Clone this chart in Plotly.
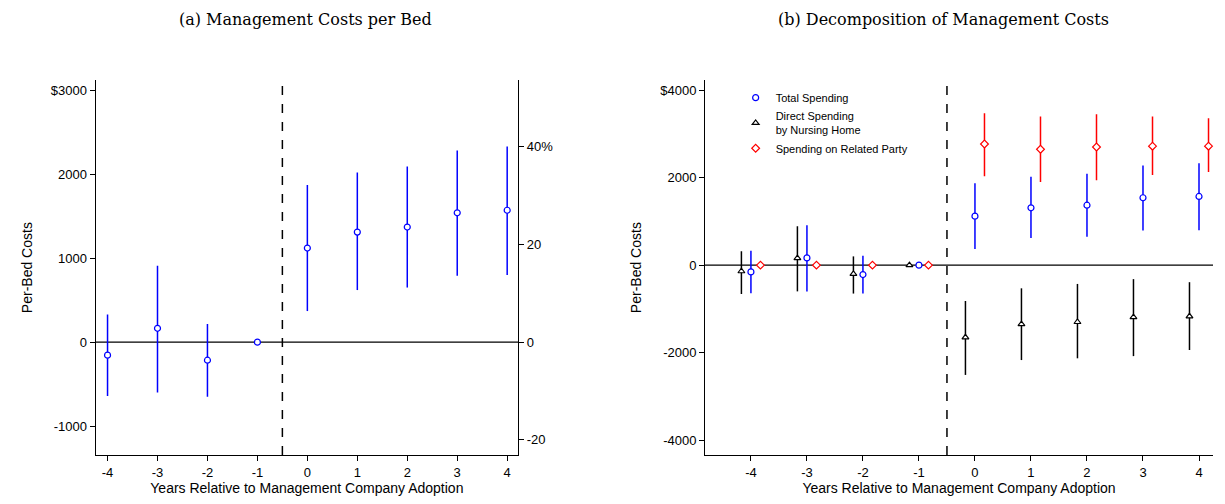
import plotly.graph_objects as go

years = [-4, -3, -2, -1, 0, 1, 2, 3, 4]
tick_labels = ["-4", "-3", "-2", "-1", "0", "1", "2", "3", "4"]

total = [-155, 165, -215, 0, 1120, 1310, 1370, 1540, 1570]
total_hi = [330, 910, 215, 0, 1870, 2020, 2090, 2280, 2330]
total_lo = [-640, -600, -650, 0, 370, 620, 650, 790, 800]

direct = [-140, 160, -200, 0, -1650, -1350, -1300, -1190, -1170]
direct_hi = [320, 890, 200, 0, -820, -530, -430, -320, -390]
direct_lo = [-660, -600, -650, 0, -2510, -2170, -2130, -2080, -1940]

related = [0, 0, 0, 0, 2770, 2650, 2700, 2720, 2720]
related_hi = [0, 0, 0, 0, 3470, 3400, 3450, 3400, 3360]
related_lo = [0, 0, 0, 0, 2030, 1900, 1940, 2060, 2130]

FONT = "Liberation Sans"
fig = go.Figure()

def err(v, hi, lo):
    return dict(type="data", symmetric=False,
                array=[h - x for h, x in zip(hi, v)],
                arrayminus=[x - l for x, l in zip(v, lo)],
                width=0, thickness=1.5)

def add(xs, v, hi, lo, color, sym, name, xa, ya, show):
    fig.add_trace(go.Scatter(x=xs, y=v, mode="markers", name=name, showlegend=show, cliponaxis=False,
        marker=dict(symbol=sym, size=6, color="white", line=dict(color=color, width=1.2)),
        error_y=dict(err(v, hi, lo), color=color), xaxis=xa, yaxis=ya))

dx = 8 / 1225
dy = 8 / 504
ydom = [0.097 + dy, 0.841 + dy]
xr2 = [-4.82, 4.25]
shapes = [
    dict(type="line", xref="x", yref="y", x0=-4.24, x1=4.22, y0=0, y1=0, line=dict(color="black", width=1.2), layer="below"),
    dict(type="line", xref="x", yref="paper", x0=-0.5, x1=-0.5, y0=ydom[0], y1=ydom[1],
         line=dict(color="black", width=1.5, dash="dash"), layer="below"),
    dict(type="line", xref="x2", yref="y2", x0=xr2[0], x1=xr2[1], y0=0, y1=0, line=dict(color="black", width=1.2), layer="below"),
    dict(type="line", xref="x2", yref="paper", x0=-0.5, x1=-0.5, y0=ydom[0], y1=ydom[1],
         line=dict(color="black", width=1.5, dash="dash"), layer="below"),
]

add(years, total, total_hi, total_lo, "blue", "circle", "Total Spending", "x", "y", False)
fig.add_trace(go.Scatter(x=[0], y=[0], mode="markers", marker=dict(opacity=0), showlegend=False,
                         xaxis="x", yaxis="y3", hoverinfo="skip"))

add(years, total, total_hi, total_lo, "blue", "circle", "Total Spending", "x2", "y2", True)
add([y - 0.17 for y in years], direct, direct_hi, direct_lo, "black", "triangle-up",
    "Direct Spending<br>by Nursing Home", "x2", "y2", True)
add([y + 0.17 for y in years], related, related_hi, related_lo, "red", "diamond",
    "Spending on Related Party", "x2", "y2", True)

axbase = dict(showgrid=False, zeroline=False, showline=True, linecolor="black", linewidth=1, automargin=False,
              ticks="outside", ticklen=5, tickcolor="black", tickfont=dict(size=13, family=FONT, color="black"))
tfont = dict(size=14, family=FONT, color="black")
fig.update_layout(
    width=1225, height=504, margin=dict(l=0, r=0, t=0, b=0),
    plot_bgcolor="white", paper_bgcolor="white",
    xaxis=dict(axbase, domain=[0.078 - dx, 0.423 - dx], range=[-4.24, 4.22], tickvals=years, ticktext=tick_labels,
               anchor="y", title=dict(text="Years Relative to Management Company Adoption", standoff=2, font=tfont)),
    yaxis=dict(axbase, domain=ydom, range=[-1345, 3119], tickvals=[-1000, 0, 1000, 2000, 3000],
               ticktext=["-1000", "0", "1000", "2000", "$3000"], anchor="x",
               title=dict(text="Per-Bed Costs", font=tfont, standoff=14)),
    yaxis3=dict(axbase, overlaying="y", side="right", anchor="x", range=[-23.1, 53.5],
                tickvals=[-20, 0, 20, 40], ticktext=["-20", "0", "20", "40%"]),
    xaxis2=dict(axbase, domain=[705 / 1225 - dx, 1213 / 1225 - dx], range=xr2, tickvals=years, ticktext=tick_labels,
                anchor="y2", title=dict(text="Years Relative to Management Company Adoption", standoff=2, font=tfont)),
    yaxis2=dict(axbase, domain=ydom, range=[-4343, 4229], tickvals=[-4000, -2000, 0, 2000, 4000],
                ticktext=["-4000", "-2000", "0", "2000", "$4000"], anchor="x2",
                title=dict(text="Per-Bed Costs", font=tfont)),
    legend=dict(x=0.594, y=0.835 + dy, xanchor="left", yanchor="top", bgcolor="rgba(0,0,0,0)",
                font=dict(size=11, family=FONT, color="black"), tracegroupgap=0, itemwidth=30),
    shapes=shapes,
    annotations=[
        dict(text="(a) Management Costs per Bed", xref="paper", yref="paper", x=0.249 - dx, y=0.985 + dy, xanchor="center",
             showarrow=False, yanchor="top", font=dict(size=16, family="DejaVu Serif", color="black")),
        dict(text="(b) Decomposition of Management Costs", xref="paper", yref="paper", x=0.77 - dx, y=0.985 + dy, xanchor="center",
             showarrow=False, yanchor="top", font=dict(size=16, family="DejaVu Serif", color="black")),
    ],
)
fig.write_html("out.html")
